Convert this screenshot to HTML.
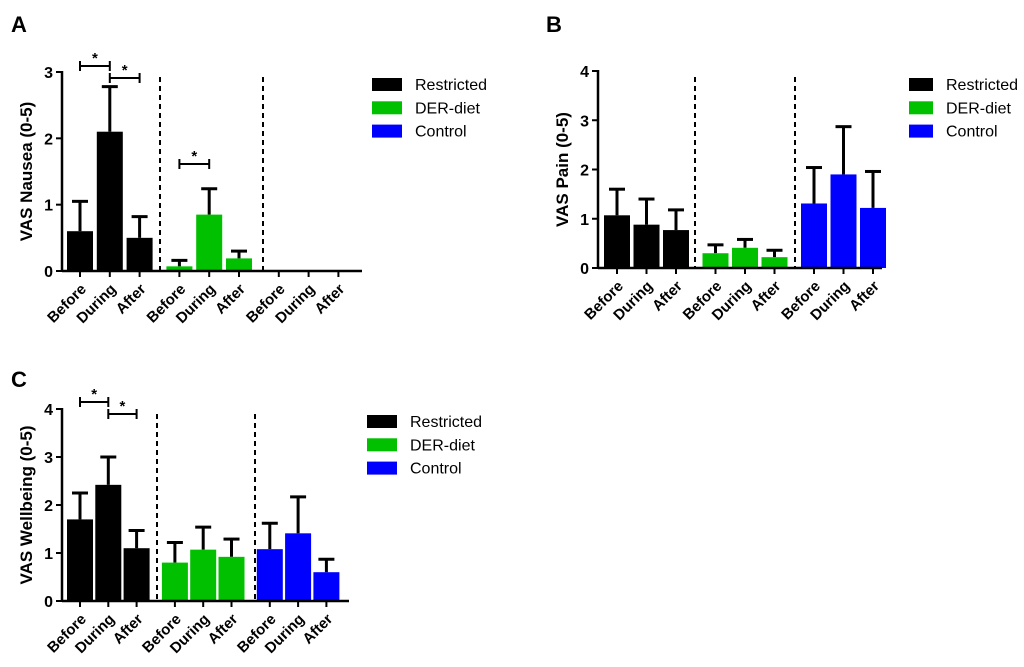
<!DOCTYPE html>
<html><head><meta charset="utf-8"><style>
body{margin:0;background:#fff;width:1024px;height:662px;overflow:hidden}
svg text{font-family:"Liberation Sans",Arial,sans-serif}
</style></head><body>
<svg id="fig" width="1024" height="662" xmlns="http://www.w3.org/2000/svg"></svg>
<script>
const categories = ["Before","During","After","Before","During","After","Before","During","After"];
const groups = ["Restricted","DER-diet","Control"];
const nauseaMeans = [0.6,2.1,0.5,0.07,0.85,0.19,0,0,0];
const nauseaErr = [1.05,2.78,0.82,0.16,1.24,0.3,0,0,0];
const painMeans = [1.07,0.88,0.77,0.3,0.41,0.22,1.31,1.9,1.22];
const painErr = [1.6,1.4,1.18,0.47,0.58,0.36,2.04,2.87,1.96];
const wellMeans = [1.7,2.42,1.1,0.8,1.07,0.92,1.08,1.41,0.6];
const wellErr = [2.25,3.0,1.47,1.22,1.54,1.29,1.62,2.17,0.87];
const nauseaTicks = [0,1,2,3];
const painTicks = [0,1,2,3,4];
const wellTicks = [0,1,2,3,4];
const colors = ["#000000","#00c000","#0000ff"];
const NS="http://www.w3.org/2000/svg";
const svg=document.getElementById('fig');
function mk(tag,attrs,parent,text){const e=document.createElementNS(NS,tag);for(const k in attrs)e.setAttribute(k,attrs[k]);if(text!==undefined)e.textContent=text;(parent||svg).appendChild(e);return e;}

function panel(cfg){
  const g=mk('g',{});
  
  
  const yMax=cfg.ticks[cfg.ticks.length-1];
  const y=v=>cfg.y0-(v/yMax)*(cfg.y0-cfg.yTop);
  const x=i=>cfg.x0+cfg.off+i*cfg.step+Math.floor(i/3)*cfg.gap;
  cfg.means.forEach((m,i)=>{
    const c=colors[Math.floor(i/3)];
    const top=cfg.errs[i];
    if(top>m){
      const l=mk('line',{x1:x(i),x2:x(i),y1:y(m),y2:y(top),stroke:'#000','stroke-width':3},g);
      
      const cap=mk('line',{x1:x(i)-8,x2:x(i)+8,y1:y(top),y2:y(top),stroke:'#000','stroke-width':3},g);
      
    }
    const r=mk('rect',{x:x(i)-cfg.bw/2,y:y(m),width:cfg.bw,height:cfg.y0-y(m),fill:c},g);
    
    
    const t=mk('line',{x1:x(i),x2:x(i),y1:cfg.y0,y2:cfg.y0+6,stroke:'#000','stroke-width':2},g);
    
    const lab=mk('text',{x:0,y:0,'font-size':15,'font-weight':'bold','text-anchor':'end',transform:`translate(${x(i)+7},${cfg.y0+19}) rotate(-45)`},g,categories[i]);
    
  });
  cfg.dash.forEach(dx=>{
    const d=mk('line',{x1:dx,x2:dx,y1:cfg.dashTop,y2:cfg.y0,stroke:'#000','stroke-width':2,'stroke-dasharray':'5,4'},g);
    
  });
  const ya=mk('line',{x1:cfg.x0,x2:cfg.x0,y1:cfg.yTop-1,y2:cfg.y0+1,stroke:'#000','stroke-width':2.5},g);
  
  const xa=mk('line',{x1:cfg.x0,x2:cfg.xEnd,y1:cfg.y0,y2:cfg.y0,stroke:'#000','stroke-width':2.5},g);
  
  cfg.ticks.forEach(v=>{
    const t=mk('line',{x1:cfg.x0-6,x2:cfg.x0,y1:y(v),y2:y(v),stroke:'#000','stroke-width':2},g);
    
    const l=mk('text',{x:cfg.x0-9,y:y(v)+6,'font-size':16,'font-weight':'bold','text-anchor':'end'},g,String(v));
    
  });
  const yt=mk('text',{x:0,y:0,'font-size':17,'font-weight':'bold','text-anchor':'middle',transform:`translate(${cfg.x0-30},${(cfg.y0+cfg.yTop)/2}) rotate(-90)`},g,cfg.ytitle);
  
  (cfg.sig||[]).forEach(s=>{
    const a=x(s[0]),b=x(s[1]),yy=s[2];
    const p=mk('path',{d:`M${a} ${yy-5}V${yy+5}M${a} ${yy}H${b}M${b} ${yy-5}V${yy+5}`,stroke:'#000','stroke-width':2,fill:'none'},g);
    
    const st=mk('text',{x:(a+b)/2,y:yy-3,'font-size':15,'font-weight':'bold','text-anchor':'middle'},g,'*');
    
  });
  groups.forEach((n,k)=>{
    const ly=cfg.legY+k*23.3;
    const r=mk('rect',{x:cfg.legX,y:ly-6,width:cfg.legW,height:13,fill:colors[k]},g);
    
    const t=mk('text',{x:cfg.legX+cfg.legW+13,y:ly+6,'font-size':16},g,n);
    
  });
  const L=mk('text',{x:cfg.letter[0],y:cfg.letter[1],'font-size':22,'font-weight':'bold'},svg,cfg.letterText);
  
}
panel({name:'panel-a-nausea',letterText:'A',letter:[11,32],x0:62,y0:271,yTop:72,xEnd:362,off:18,step:29.8,gap:10,bw:26,
  means:nauseaMeans,errs:nauseaErr,ticks:nauseaTicks,ytitle:'VAS Nausea  (0-5)',dash:[160,263],dashTop:77,
  sig:[[0,1,66],[1,2,78],[3,4,164]],legX:372,legW:30,legY:84});
panel({name:'panel-b-pain',letterText:'B',letter:[546,32],x0:598,y0:268,yTop:71,xEnd:882,off:19,step:29.5,gap:10,bw:26,
  means:painMeans,errs:painErr,ticks:painTicks,ytitle:'VAS Pain  (0-5)',dash:[695,795],dashTop:77,
  legX:909,legW:24,legY:84});
panel({name:'panel-c-wellbeing',letterText:'C',letter:[11,387],x0:62,y0:601,yTop:409,xEnd:349,off:18,step:28.3,gap:10,bw:26,
  means:wellMeans,errs:wellErr,ticks:wellTicks,ytitle:'VAS Wellbeing (0-5)',dash:[157,255],dashTop:414,
  sig:[[0,1,402],[1,2,414]],legX:367,legW:30,legY:421});
</script>
</body></html>
